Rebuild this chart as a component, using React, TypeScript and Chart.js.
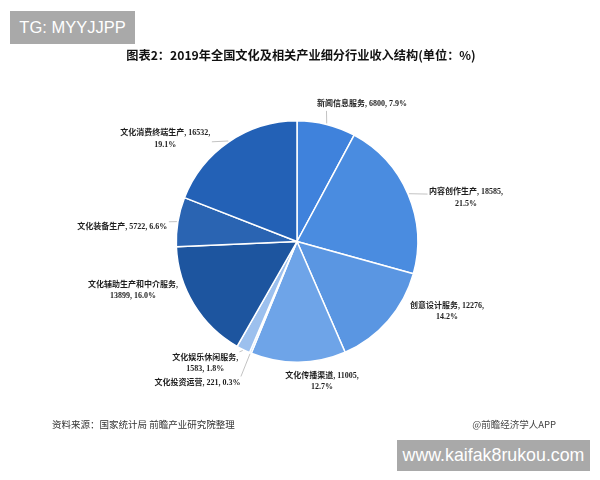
import React, { useEffect, useRef } from "react";
import { Chart, registerables } from "chart.js";

Chart.register(...registerables);

const CATEGORIES = [
  "新闻信息服务",
  "内容创作生产",
  "创意设计服务",
  "文化传播渠道",
  "文化投资运营",
  "文化娱乐休闲服务",
  "文化辅助生产和中介服务",
  "文化装备生产",
  "文化消费终端生产",
];
const VALUES = [6800, 18585, 12276, 11005, 221, 1583, 13899, 5722, 16532];
const PERCENT_LABELS = ["7.9%", "21.5%", "14.2%", "12.7%", "0.3%", "1.8%", "16.0%", "6.6%", "19.1%"];
const COLORS = [
  "#3f82dc",
  "#4a8ce0",
  "#5a96e2",
  "#6ea4e8",
  "#aecdf3",
  "#9cc0ee",
  "#1d559f",
  "#2a64b2",
  "#2361b6",
];
// 0 = one line, 1 = break before percent, 2 = break before value
const LABEL_WRAP = [0, 1, 1, 1, 0, 2, 2, 0, 1];
const LABEL_NUDGE: [number, number][] = [
  [-9.5, -20],
  [21, -2],
  [22, -15],
  [-13, 13.5],
  [-10, 30],
  [-5, 8],
  [-16, -19.5],
  [-10.5, 5],
  [-18.5, -8.5],
];
const SHOW_LEADER = [true, true, false, false, true, true, false, true, true];

const TITLE = "图表2：2019年全国文化及相关产业细分行业收入结构(单位：%)";
const SOURCE = "资料来源：国家统计局 前瞻产业研究院整理";
const CREDIT = "@前瞻经济学人APP";

const LABEL_FONT = "bold 8px 'Liberation Serif', 'Noto Sans CJK SC'";
const LINE_H = 11.5;

function labelLines(i: number): string[] {
  const name = CATEGORIES[i];
  const v = String(VALUES[i]);
  const p = PERCENT_LABELS[i];
  if (LABEL_WRAP[i] === 1) return [`${name}, ${v},`, p];
  if (LABEL_WRAP[i] === 2) return [`${name},`, `${v}, ${p}`];
  return [`${name}, ${v}, ${p}`];
}

const labelPlugin = {
  id: "outerLabels",
  afterDatasetsDraw(chart: any) {
    const ctx = chart.ctx;
    const meta = chart.getDatasetMeta(0);
    ctx.save();
    ctx.font = LABEL_FONT;
    ctx.textBaseline = "middle";
    meta.data.forEach((arc: any, i: number) => {
      const { x, y, startAngle, endAngle, outerRadius } = arc.getProps(
        ["x", "y", "startAngle", "endAngle", "outerRadius"],
        true
      );
      const mid = (startAngle + endAngle) / 2;
      const ax = x + Math.cos(mid) * outerRadius;
      const ay = y + Math.sin(mid) * outerRadius;
      const right = Math.cos(mid) >= -0.001;
      const lines = labelLines(i);
      const widths = lines.map((l) => ctx.measureText(l).width);
      const bw = Math.max(...widths);
      const [dx, dy] = LABEL_NUDGE[i];
      const left = right ? ax + dx : ax + dx - bw;
      const cx = left + bw / 2;
      const y1 = ay + dy;
      const top = y1 - 5;
      const bottom = y1 + (lines.length - 1) * LINE_H + 5;
      if (SHOW_LEADER[i]) {
        let ex = Math.min(Math.max(ax, left), left + bw);
        let ey = Math.min(Math.max(ay, top), bottom);
        const vx = ax - ex;
        const vy = ay - ey;
        const d = Math.hypot(vx, vy) || 1;
        ex += (vx / d) * 1.5;
        ey += (vy / d) * 1.5;
        ctx.strokeStyle = "#b4b4b4";
        ctx.lineWidth = 0.8;
        ctx.beginPath();
        ctx.moveTo(ax + Math.cos(mid) * 1, ay + Math.sin(mid) * 1);
        ctx.lineTo(ex, ey);
        ctx.stroke();
      }
      ctx.fillStyle = "#1e1e1e";
      ctx.textAlign = "center";
      lines.forEach((l, k) => {
        ctx.fillText(l, cx, y1 + k * LINE_H);
      });
    });
    ctx.restore();
  },
};

export default function App() {
  const canvasRef = useRef<HTMLCanvasElement | null>(null);

  useEffect(() => {
    if (!canvasRef.current) return;
    const chart = new Chart(canvasRef.current, {
      type: "pie",
      data: {
        labels: CATEGORIES,
        datasets: [
          {
            data: VALUES,
            backgroundColor: COLORS,
            borderColor: "#ffffff",
            borderWidth: 1.5,
          },
        ],
      },
      options: {
        responsive: false,
        animation: false,
        events: [],
        layout: { padding: { top: 120, bottom: 117, left: 175, right: 181 } },
        plugins: {
          legend: { display: false },
          tooltip: { enabled: false },
          title: { display: false },
        },
      },
      plugins: [labelPlugin],
    });
    return () => chart.destroy();
  }, []);

  return (
    <div
      style={{
        position: "absolute",
        left: 0,
        top: 0,
        width: 600,
        height: 480,
        background: "#ffffff",
        overflow: "hidden",
      }}
    >
      <canvas ref={canvasRef} width={600} height={480} style={{ position: "absolute", left: 0, top: 0 }} />
      <div
        style={{
          position: "absolute",
          left: 0,
          top: 48,
          width: 602,
          textAlign: "center",
          fontFamily: "'Noto Sans CJK SC', sans-serif",
          fontWeight: "bold",
          fontSize: 12.2,
          lineHeight: "14px",
          color: "#111",
        }}
      >
        {TITLE}
      </div>
      <div
        style={{
          position: "absolute",
          left: 52,
          top: 417,
          fontFamily: "'Noto Sans CJK SC', sans-serif",
          fontSize: 9.5,
          lineHeight: "14px",
          color: "#333",
          whiteSpace: "nowrap",
        }}
      >
        {SOURCE}
      </div>
      <div
        style={{
          position: "absolute",
          right: 44,
          top: 417,
          fontFamily: "'Noto Sans CJK SC', sans-serif",
          fontSize: 9.5,
          lineHeight: "14px",
          color: "#444",
          whiteSpace: "nowrap",
        }}
      >
        {CREDIT}
      </div>
      <div
        style={{
          position: "absolute",
          left: 10,
          top: 11,
          width: 125,
          height: 33,
          background: "#a9a9a9",
          color: "#ffffff",
          fontFamily: "'Liberation Sans', Arial, sans-serif",
          fontSize: 16.5,
          lineHeight: "33px",
          textAlign: "center",
          whiteSpace: "nowrap",
        }}
      >
        TG: MYYJJPP
      </div>
      <div
        style={{
          position: "absolute",
          left: 397,
          top: 440,
          width: 193,
          height: 31,
          background: "#a9a9a9",
          color: "#ffffff",
          fontFamily: "'Liberation Sans', Arial, sans-serif",
          fontSize: 17.8,
          lineHeight: "31px",
          textAlign: "center",
          whiteSpace: "nowrap",
        }}
      >
        www.kaifak8rukou.com
      </div>
    </div>
  );
}
